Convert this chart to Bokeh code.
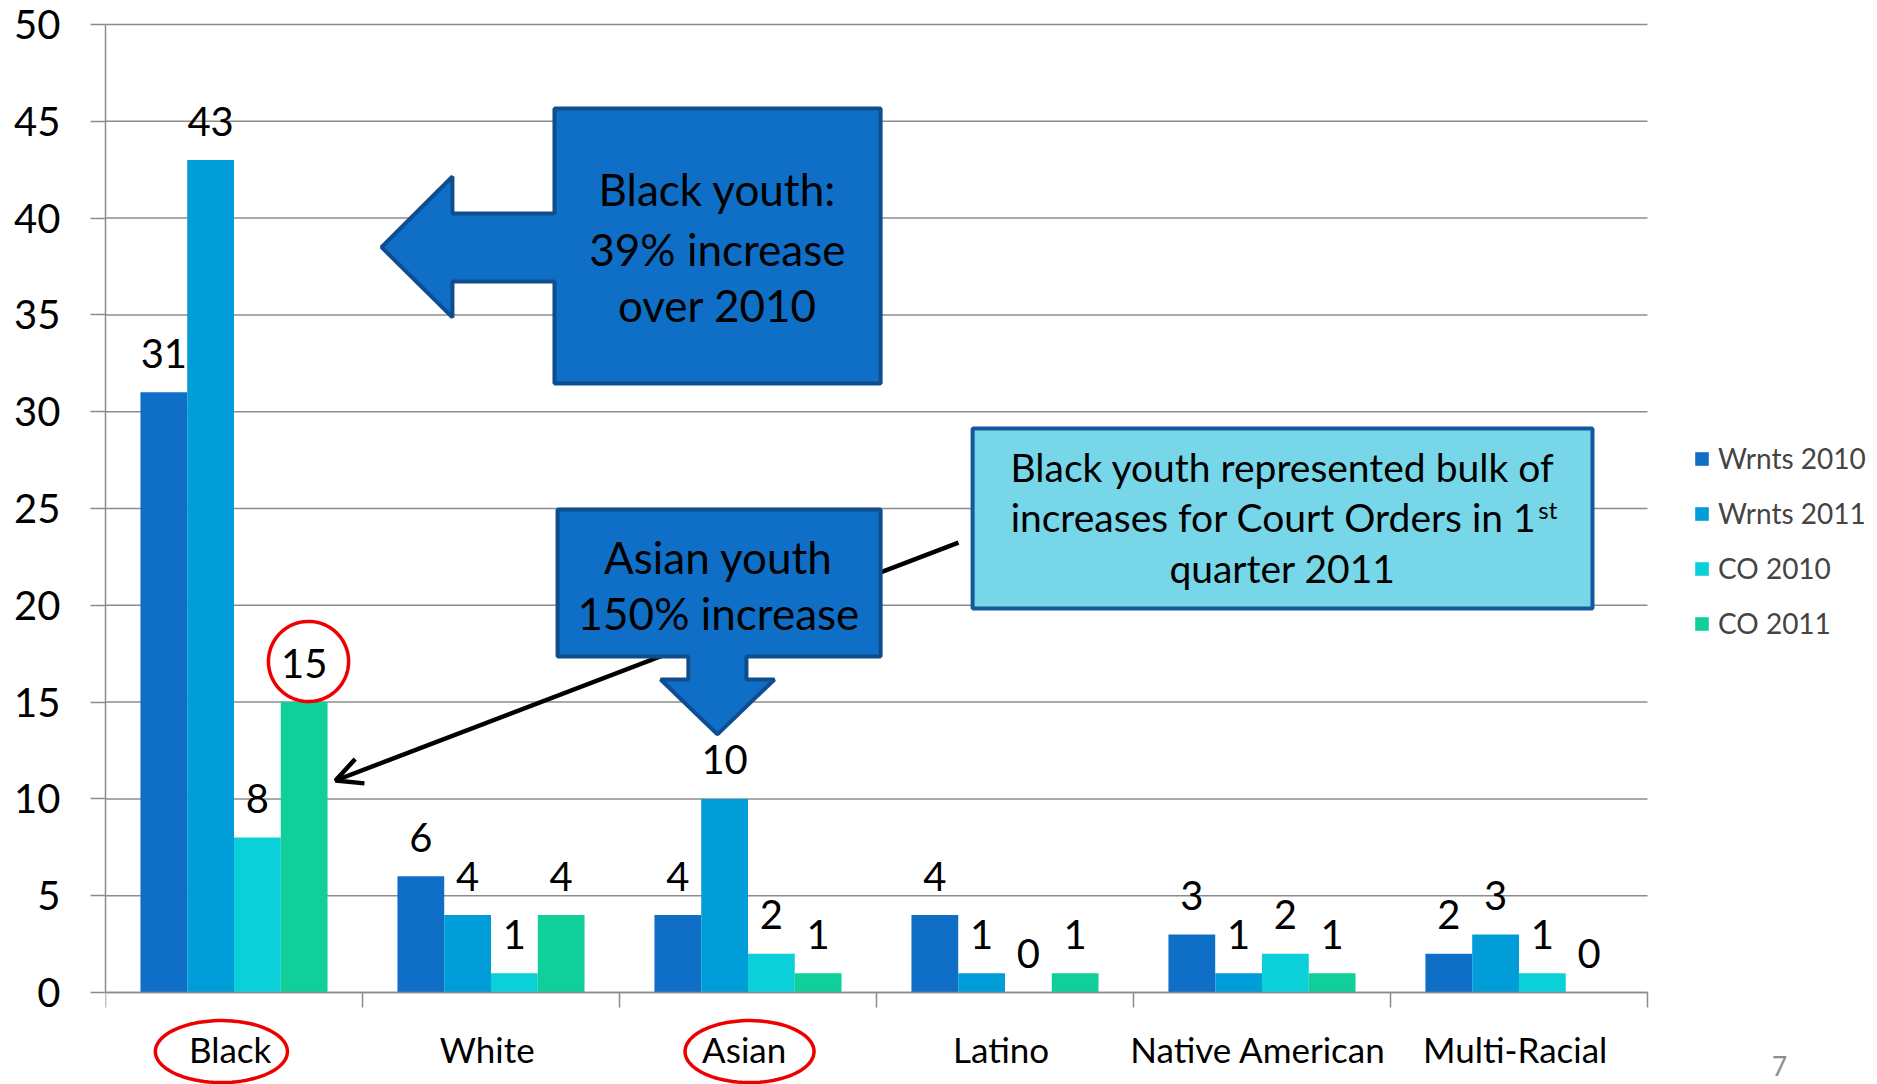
import numpy as np
from bokeh.plotting import figure
from bokeh.models import (Range1d, FixedTicker, ColumnDataSource, LabelSet, Legend, LegendItem,
                          PolyAnnotation, Label, Arrow, OpenHead)
from bokeh.core.properties import value
from bokeh.embed import file_html
from bokeh.resources import INLINE

# ---- data ----
categories = ["Black", "White", "Asian", "Latino", "Native American", "Multi-Racial"]
series_names = ["Wrnts 2010", "Wrnts 2011", "CO 2010", "CO 2011"]
wrnts_2010 = [31, 6, 4, 4, 3, 2]
wrnts_2011 = [43, 4, 10, 1, 1, 3]
co_2010 = [8, 1, 2, 0, 2, 1]
co_2011 = [15, 4, 1, 1, 1, 0]
y_ticks = [0, 5, 10, 15, 20, 25, 30, 35, 40, 45, 50]
series_colors = ["#0F6FC6", "#009DD9", "#0BD0D9", "#10CF9B"]

FONT = "Lato"
GRID = "#8C8C8C"
N = len(categories)

# frame covers the canvas to the right and bottom so that notes outside the axes show
p = figure(width=1877, height=1084, x_range=Range1d(0, 6.895), y_range=Range1d(-4.752, 51.240),
           output_backend="svg", toolbar_location=None,
           min_border_left=105, min_border_right=0, min_border_top=0, min_border_bottom=0)
p.outline_line_color = None
p.background_fill_color = "white"
p.border_fill_color = "white"
p.xgrid.visible = False
p.ygrid.visible = False

# gridlines limited to the category span
p.segment(x0=[0] * len(y_ticks), x1=[N] * len(y_ticks), y0=y_ticks, y1=y_ticks,
          line_color=GRID, line_width=1.5)

# x axis drawn at y = 0
label_pos = [i + 0.485 for i in range(N)]
xa = p.xaxis[0]
xa.fixed_location = 0
xa.bounds = (0, N)
xa.ticker = FixedTicker(ticks=label_pos, minor_ticks=list(range(N + 1)))
xa.major_label_overrides = {pos: c for pos, c in zip(label_pos, categories)}
xa.major_tick_out = 0
xa.major_tick_in = 0
xa.minor_tick_out = 15
xa.minor_tick_in = 0
xa.minor_tick_line_color = GRID
xa.minor_tick_line_width = 1.5
xa.axis_line_color = GRID
xa.axis_line_width = 1.5
xa.major_label_standoff = 20
xa.major_label_text_font = FONT
xa.major_label_text_font_size = "35px"
xa.major_label_text_color = "black"

ya = p.yaxis[0]
ya.bounds = (0, 50)
ya.ticker = FixedTicker(ticks=y_ticks, minor_ticks=[])
ya.major_tick_out = 15
ya.major_tick_in = 0
ya.major_tick_line_color = GRID
ya.major_tick_line_width = 1.5
ya.axis_line_color = GRID
ya.axis_line_width = 1.5
ya.major_label_standoff = 30
ya.major_label_text_font = FONT
ya.major_label_text_font_size = "40px"
ya.major_label_text_color = "black"
ya.major_label_text_line_height = 0.8

# bars
all_series = [wrnts_2010, wrnts_2011, co_2010, co_2011]
bw = 0.182
renderers = []
for j, (vals, col) in enumerate(zip(all_series, series_colors)):
    xs = [i + 0.5 + (j - 1.5) * bw for i in range(N)]
    src = ColumnDataSource(dict(x=xs, top=vals, lab=[str(v) for v in vals]))
    r = p.vbar(x="x", top="top", width=bw, source=src, fill_color=col, line_color=None)
    renderers.append(r)
    p.add_layout(LabelSet(x="x", y="top", text="lab", source=src, text_align="center",
                          text_baseline="middle", y_offset=39, text_font=value(FONT),
                          text_font_size=value("40px"), text_color="black"))

# legend (inside the wide frame, right of the category span)
legend = Legend(items=[LegendItem(label=n, renderers=[r]) for n, r in zip(series_names, renderers)],
                location=(1588, 444), glyph_width=17, glyph_height=17, label_height=34,
                spacing=21, label_standoff=8, padding=0, margin=0,
                label_text_font=FONT, label_text_font_size="28px",
                border_line_alpha=0, background_fill_alpha=0)
p.add_layout(legend)

# pointer line (under the Asian callout)
p.add_layout(Arrow(end=OpenHead(size=26, line_width=4.5, line_color="black"),
                   x_start=3.319, y_start=23.24, x_end=0.895, y_end=10.95,
                   line_width=4.5, line_color="black"))

CALLOUT_FILL = "#0F6FC6"
CALLOUT_LINE = "#0E4E8F"

# Black youth left-arrow callout
p.add_layout(PolyAnnotation(
    xs=[1.747, 3.016, 3.016, 1.747, 1.747, 1.350, 1.350, 1.074, 1.350, 1.350, 1.747],
    ys=[45.66, 45.66, 31.46, 31.46, 36.73, 36.73, 34.87, 38.50, 42.15, 40.24, 40.24],
    fill_color=CALLOUT_FILL, fill_alpha=1, line_color=CALLOUT_LINE, line_alpha=1, line_width=4))

# Asian youth down-arrow callout
p.add_layout(PolyAnnotation(
    xs=[1.759, 3.016, 3.016, 2.494, 2.494, 2.603, 2.381, 2.160, 2.268, 2.268, 1.759],
    ys=[24.95, 24.95, 17.36, 17.36, 16.17, 16.17, 13.33, 16.17, 16.17, 17.36, 17.36],
    fill_color=CALLOUT_FILL, fill_alpha=1, line_color=CALLOUT_LINE, line_alpha=1, line_width=4))

# Court orders box
p.add_layout(PolyAnnotation(
    xs=[3.374, 5.786, 5.786, 3.374], ys=[29.13, 29.13, 19.83, 19.83],
    fill_color="#77D7E8", fill_alpha=1, line_color="#13589B", line_alpha=1, line_width=4))

def txt(x, y, s, size, align="center", color="black"):
    p.add_layout(Label(x=x, y=y, text=s, text_align=align, text_baseline="middle",
                       text_font=FONT, text_font_size=size, text_color=color))

txt(2.381, 41.48, "Black youth:", "44px")
txt(2.381, 38.43, "39% increase", "44px")
txt(2.381, 35.49, "over 2010", "44px")
txt(2.385, 22.47, "Asian youth", "44px")
txt(2.385, 19.58, "150% increase", "44px")
txt(4.580, 27.12, "Black youth represented bulk of", "39px")
txt(5.568, 24.54, "increases for Court Orders in 1", "39px", align="right")
txt(5.575, 24.95, "st", "24px", align="left")
txt(4.580, 21.95, "quarter 2011", "39px")

# red circles
t = np.linspace(0, 2 * np.pi, 90)
def ring(cx, cy, rx, ry):
    p.add_layout(PolyAnnotation(xs=list(cx + rx * np.cos(t)), ys=list(cy + ry * np.sin(t)),
                                fill_alpha=0, line_color="#EE0000", line_alpha=1, line_width=3.5))
ring(0.790, 17.10, 0.156, 2.07)
ring(0.451, -3.05, 0.257, 1.60)
ring(2.506, -3.05, 0.251, 1.60)

# page number
txt(6.514, -3.80, "7", "26px", color="#8C8C8C")

open("out.html", "w").write(file_html(p, INLINE))
